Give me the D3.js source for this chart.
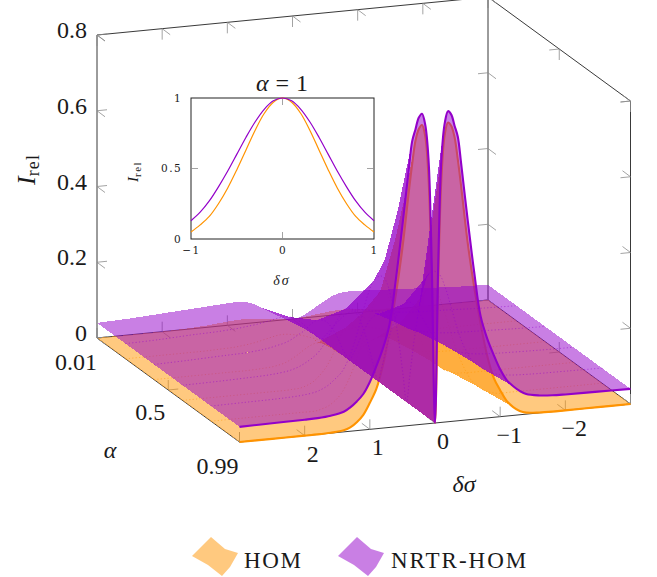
<!DOCTYPE html>
<html>
<head>
<meta charset="utf-8">
<script src="https://d3js.org/d3.v7.min.js"></script>
<style>
  html, body { margin: 0; background: #fff; }
  svg { display: block; }
  text { font-family: "Liberation Serif", serif; fill: #1a1a1a; }
  .small { font-family: "DejaVu Serif", serif; font-size: 10.5px; letter-spacing: 1.4px; }
</style>
</head>
<body>
<svg width="657" height="577"></svg>
<script>
const purple = '#9300c9';
const orange = '#ff9300';

// values; the surface is even in delta sigma
const alphaRows = [0.01, 0.206, 0.402, 0.598, 0.794, 0.99];
const deltaGrid = [0, 0.05, 0.1, 0.15, 0.2, 0.25, 0.3, 0.35, 0.4, 0.5, 0.6, 0.7, 0.8, 0.9, 1, 1.1, 1.2, 1.3, 1.4, 1.6, 1.8, 2, 2.5, 3];
const homRows = [
  [0, .0005, .001, .002, .003, .004, .005, .006, .007, .009, .011, .012, .012, .011, .01, .008, .007, .005, .004, .002, .001, 0, 0, 0],
  [0, .002, .005, .008, .011, .014, .017, .019, .02, .023, .024, .022, .018, .014, .01, .007, .005, .003, .002, .001, 0, 0, 0, 0],
  [0, .008, .016, .024, .032, .038, .044, .048, .052, .055, .05, .04, .028, .018, .01, .006, .003, .002, .001, 0, 0, 0, 0, 0],
  [0, .025, .05, .08, .105, .125, .14, .15, .155, .15, .12, .08, .05, .03, .015, .007, .002, .001, 0, 0, 0, 0, 0, 0],
  [0, .06, .13, .19, .24, .27, .29, .30, .30, .27, .22, .16, .11, .07, .04, .022, .01, .004, 0, 0, 0, 0, 0, 0],
  [0, .38, .65, .76, .79, .78, .75, .69, .62, .47, .35, .25, .165, .105, .07, .04, .022, .01, .004, .001, 0, 0, 0, 0]
];
const nrtrRows = [
  [0, .0005, .002, .005, .01, .015, .02, .025, .03, .04, .05, .056, .058, .059, .058, .057, .056, .055, .054, .052, .05, .048, .043, .04],
  [0, .008, .016, .025, .034, .042, .05, .057, .063, .069, .07, .067, .063, .06, .057, .055, .053, .051, .05, .048, .047, .046, .042, .04],
  [0, .015, .03, .05, .07, .085, .098, .108, .113, .115, .105, .09, .08, .07, .063, .059, .055, .052, .05, .047, .046, .045, .042, .04],
  [0, .03, .065, .1, .13, .155, .175, .19, .198, .2, .18, .15, .12, .095, .08, .069, .06, .054, .05, .046, .044, .043, .041, .04],
  [0, .07, .14, .2, .25, .29, .32, .335, .34, .33, .29, .23, .17, .125, .095, .079, .065, .056, .05, .045, .043, .042, .041, .04],
  [0, .42, .70, .79, .82, .81, .78, .75, .68, .53, .39, .27, .21, .165, .125, .095, .077, .063, .053, .046, .043, .042, .041, .04]
];

const deltaTicks = [3, 2, 1, 0, -1, -2, -3];
const deltaLabels = [2, 1, 0, -1, -2];
const alphaTicks = [0.01, 0.5, 0.99];
const zTicks = [0, 0.2, 0.4, 0.6, 0.8];

const insetDelta = [-1, -.9, -.8, -.7, -.6, -.5, -.4, -.3, -.2, -.1, 0, .1, .2, .3, .4, .5, .6, .7, .8, .9, 1];
const insetHom = [.05, .1, .16, .25, .36, .49, .63, .77, .89, .97, 1, .97, .89, .77, .63, .49, .36, .25, .16, .1, .05];
const insetNrtr = [.13, .19, .27, .37, .48, .6, .72, .83, .92, .98, 1, .98, .92, .83, .72, .6, .48, .37, .27, .19, .13];

const svg = d3.select('svg');

// oblique view of the box: each data axis adds its own screen offset
const originX = 97, originY = 338;
const deltaX = d3.scaleLinear().domain([3, -3]).range([0, 391]);
const deltaY = d3.scaleLinear().domain([3, -3]).range([0, -38]);
const alphaX = d3.scaleLinear().domain([0.01, 0.99]).range([0, 142.5]);
const alphaY = d3.scaleLinear().domain([0.01, 0.99]).range([0, 104]);
const zY = d3.scaleLinear().domain([0, 0.8]).range([0, -303]);

function project(delta, alpha, z) {
  return [originX + deltaX(delta) + alphaX(alpha), originY + deltaY(delta) + alphaY(alpha) + zY(z)];
}

function renderBox(g) {
  const corners = [
    [[3, .01, 0], [-3, .01, 0]], [[3, .01, 0], [3, .99, 0]], [[3, .99, 0], [-3, .99, 0]], [[-3, .01, 0], [-3, .99, 0]],
    [[3, .01, 0], [3, .01, .8]], [[-3, .01, 0], [-3, .01, .8]], [[-3, .99, 0], [-3, .99, .8]],
    [[3, .01, .8], [-3, .01, .8]], [[-3, .01, .8], [-3, .99, .8]]
  ];
  corners.forEach(c => g.append('line')
    .attr('x1', project(...c[0])[0]).attr('y1', project(...c[0])[1])
    .attr('x2', project(...c[1])[0]).attr('y2', project(...c[1])[1])
    .attr('stroke', '#222').attr('stroke-width', 0.9));
}

function renderTicks(g) {
  const up = [0, -10], down = [0, 11], backDiag = [8, 6], frontDiag = [-8, -6], toRight = [10, -1], toLeft = [-10, 1];
  const sets = [
    [deltaTicks.map(d => [d, .99, 0]), up, frontDiag],
    [deltaTicks.map(d => [d, .01, 0]), up, backDiag],
    [deltaTicks.map(d => [d, .01, .8]), down, backDiag],
    [alphaTicks.map(a => [3, a, 0]), up, toRight],
    [alphaTicks.map(a => [-3, a, 0]), up, toLeft],
    [alphaTicks.map(a => [-3, a, .8]), down, toLeft],
    [zTicks.map(z => [3, .01, z]), toRight, backDiag],
    [zTicks.map(z => [-3, .01, z]), toLeft, backDiag],
    [zTicks.map(z => [-3, .99, z]), toLeft, frontDiag]
  ];
  sets.forEach(set => {
    set[0].forEach(p => {
      const s = project(...p);
      [set[1], set[2]].forEach(v => g.append('line')
        .attr('x1', s[0]).attr('y1', s[1]).attr('x2', s[0] + v[0]).attr('y2', s[1] + v[1])
        .attr('stroke', '#8c8c8c').attr('stroke-width', 0.8));
    });
  });
}

function surfaceRow(rows, i) {
  const half = deltaGrid.map((d, j) => [d, rows[i][j]]);
  const left = half.slice().reverse();
  const right = half.slice(1).map(p => [-p[0], p[1]]);
  return left.concat(right).map(p => project(p[0], alphaRows[i], p[1]));
}

function renderSurface(g, rows, color) {
  const pts = rows.map((r, i) => surfaceRow(rows, i));
  const cells = [];
  for (let i = 0; i < pts.length - 1; i++) {
    for (let j = 0; j < pts[i].length - 1; j++) {
      cells.push([pts[i][j], pts[i][j + 1], pts[i + 1][j + 1], pts[i + 1][j]]);
    }
  }
  g.append('g').style('filter', 'blur(0.4px)').selectAll('path').data(cells).join('path')
    .attr('d', c => 'M' + c.join('L') + 'Z')
    .attr('fill', color).attr('fill-opacity', 0.5)
    .attr('shape-rendering', 'crispEdges');

  // mesh seams show as dotted lines on the original
  const line = d3.line().curve(d3.curveCatmullRom);
  g.append('g').selectAll('path').data(pts.slice(1, -1)).join('path')
    .attr('d', line).attr('fill', 'none')
    .attr('stroke', color).attr('stroke-width', 0.9).attr('stroke-opacity', 0.55)
    .attr('stroke-dasharray', '1.2 2.2');

  g.append('path').attr('d', line(pts[pts.length - 1])).attr('fill', 'none')
    .attr('stroke', color).attr('stroke-width', 2.1).attr('stroke-linejoin', 'round');
}

function renderLabels(g) {
  const big = 24;
  zTicks.forEach(z => {
    const s = project(3, .01, z);
    g.append('text').attr('x', s[0] - 10).attr('y', s[1] + 3).attr('text-anchor', 'end')
      .attr('font-size', big).text(z === 0 ? '0' : z);
  });
  const alphaOffset = { 0.01: [0, 32], 0.5: [-3, 30], 0.99: [-1, 32] };
  alphaTicks.forEach(a => {
    const s = project(3, a, 0);
    g.append('text').attr('x', s[0] + alphaOffset[a][0]).attr('y', s[1] + alphaOffset[a][1]).attr('text-anchor', 'end')
      .attr('font-size', big).text(a);
  });
  deltaLabels.forEach(d => {
    const s = project(d, .99, 0);
    g.append('text').attr('x', s[0] + (d < 0 ? 9 : 8)).attr('y', s[1] + 26).attr('text-anchor', 'middle')
      .attr('font-size', big).text(String(d).replace('-', '\u2212'));
  });
  g.append('text').attr('x', 110).attr('y', 458).attr('text-anchor', 'middle').attr('font-size', big)
    .attr('font-style', 'italic').text('α');
  g.append('text').attr('x', 464).attr('y', 492).attr('text-anchor', 'middle').attr('font-size', big)
    .attr('font-style', 'italic').text('δσ');
  const iRel = g.append('text').attr('transform', 'translate(35,185) rotate(-90)').attr('font-size', 26);
  iRel.append('tspan').attr('font-style', 'italic').text('I');
  iRel.append('tspan').attr('font-size', 18).attr('dy', 4).attr('letter-spacing', 1.2).text('rel');
}

function renderInset(g) {
  const x = d3.scaleLinear().domain([-1, 1]).range([191, 374]);
  const y = d3.scaleLinear().domain([0, 1]).range([239, 98]);
  g.append('rect').attr('x', 191).attr('y', 98).attr('width', 183).attr('height', 141)
    .attr('fill', '#fff').attr('stroke', '#222').attr('stroke-width', 1);

  const gx = g.append('g').attr('transform', 'translate(0,239)')
    .call(d3.axisBottom(x).tickValues([-1, 0, 1]).tickSize(0).tickPadding(8)
      .tickFormat(d => String(d).replace('-', '\u2212')));
  const gy = g.append('g').attr('transform', 'translate(191,0)')
    .call(d3.axisLeft(y).tickValues([0, 0.5, 1]).tickSize(0).tickPadding(9).tickFormat(d => String(d)));
  [gx, gy].forEach(a => {
    a.select('.domain').remove();
    a.selectAll('text').attr('class', 'small').attr('font-size', null).attr('font-family', null);
  });

  seg(g, x(0), 239, x(0), 232);
  seg(g, x(0), 98, x(0), 105);
  seg(g, 191, y(0.5), 198, y(0.5));
  seg(g, 374, y(0.5), 367, y(0.5));

  const line = d3.line().x((d, i) => x(insetDelta[i])).y(d => y(d)).curve(d3.curveCatmullRom);
  g.append('path').attr('d', line(insetHom)).attr('fill', 'none').attr('stroke', orange).attr('stroke-width', 1.2);
  g.append('path').attr('d', line(insetNrtr)).attr('fill', 'none').attr('stroke', purple).attr('stroke-width', 1.2);

  g.append('text').attr('x', 282).attr('y', 91).attr('text-anchor', 'middle').attr('font-size', 24)
    .attr('word-spacing', 1).html('<tspan font-style="italic">α</tspan> = 1');
  g.append('text').attr('x', 282).attr('y', 285).attr('text-anchor', 'middle').attr('font-size', 14)
    .attr('font-style', 'italic').attr('letter-spacing', 2).text('δσ');
  const iRel = g.append('text').attr('transform', 'translate(138,182) rotate(-90)').attr('font-size', 15);
  iRel.append('tspan').attr('font-style', 'italic').text('I');
  iRel.append('tspan').attr('font-size', 11).attr('dy', 3).attr('letter-spacing', 1.5).text('rel');
}

function seg(g, x1, y1, x2, y2) {
  g.append('line').attr('x1', x1).attr('y1', y1).attr('x2', x2).attr('y2', y2)
    .attr('stroke', '#8c8c8c').attr('stroke-width', 0.8);
}

function renderLegend(g) {
  const glyph = [[-23, 0], [-4, -19], [10, -7], [23, -3], [15, 11], [7, 20], [-7, 9]];
  const items = [
    { name: 'HOM', color: orange, x: 215, textX: 244, spacing: 1.6 },
    { name: 'NRTR-HOM', color: purple, x: 361, textX: 391, spacing: 2 }
  ];
  items.forEach(it => {
    const e = g.append('g').attr('transform', 'translate(' + it.x + ',556)');
    e.append('path').attr('d', d3.line().curve(d3.curveLinearClosed)(glyph))
      .attr('fill', it.color).attr('fill-opacity', 0.5);
    g.append('text').attr('x', it.textX).attr('y', 568).attr('font-size', 23)
      .attr('letter-spacing', it.spacing).text(it.name);
  });
}

renderBox(svg.append('g'));
renderTicks(svg.append('g'));
renderSurface(svg.append('g'), homRows, orange);
renderSurface(svg.append('g'), nrtrRows, purple);
renderLabels(svg.append('g'));
renderInset(svg.append('g'));
renderLegend(svg.append('g'));
</script>
</body>
</html>
